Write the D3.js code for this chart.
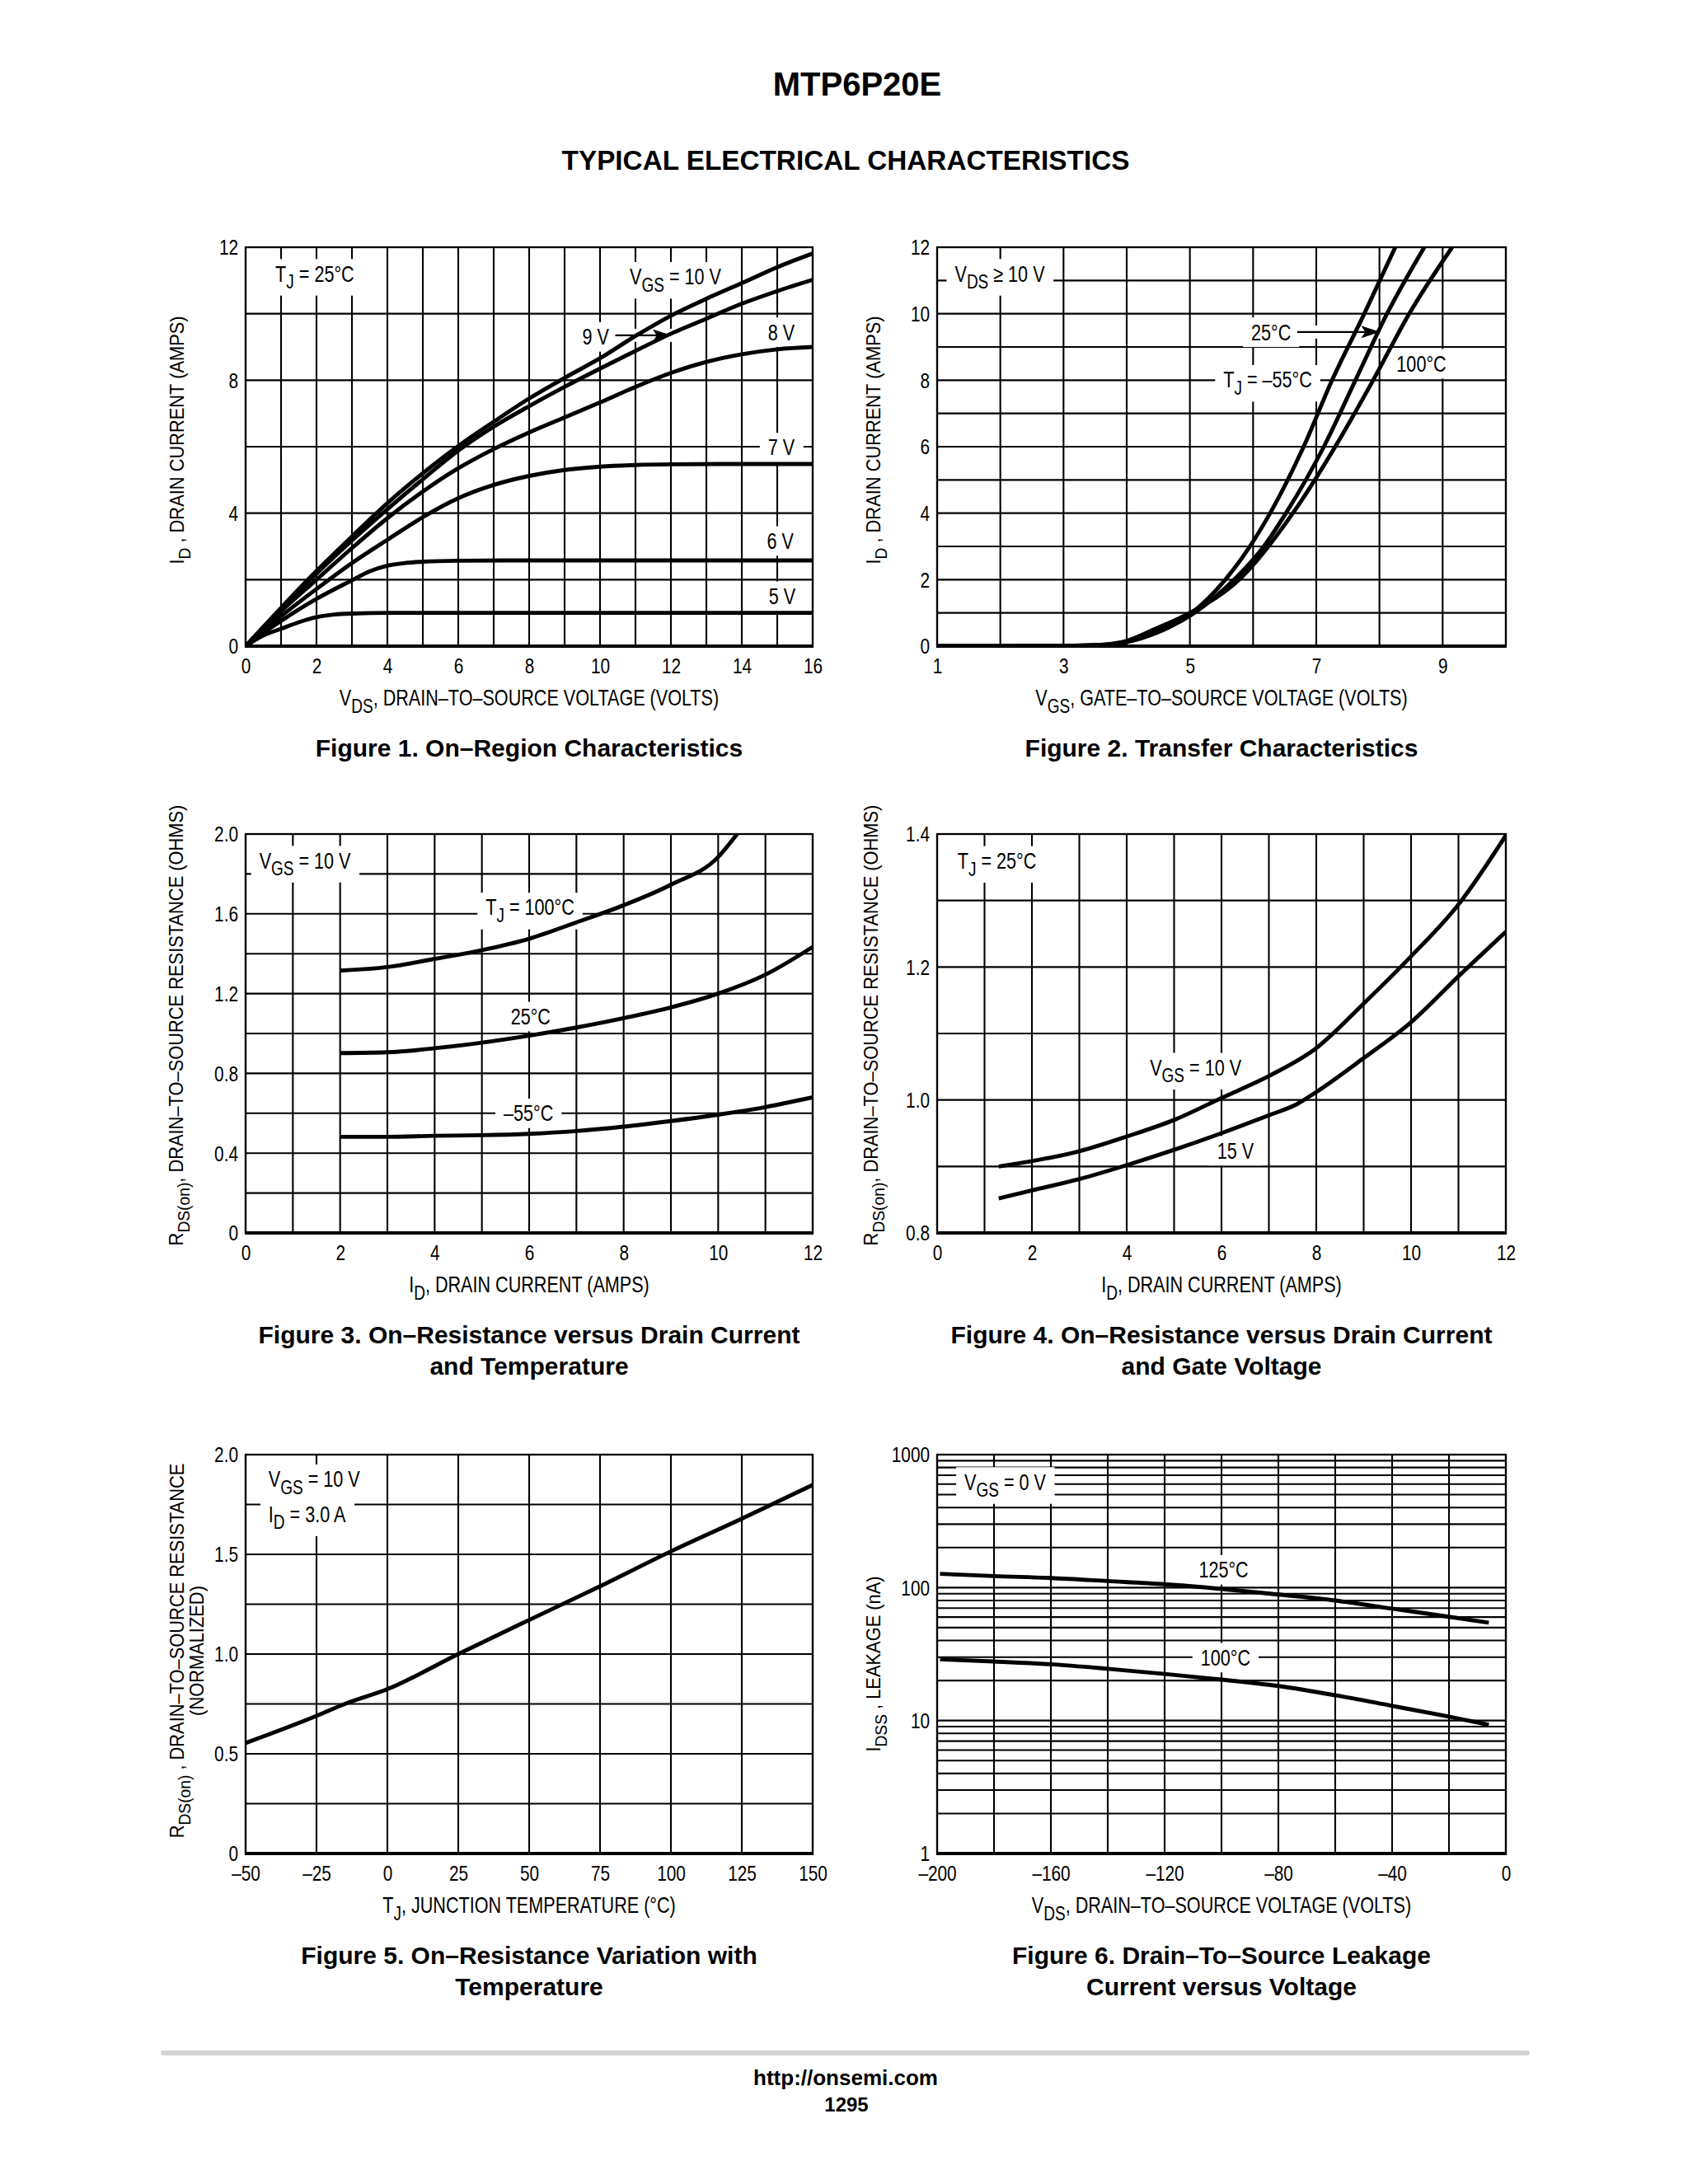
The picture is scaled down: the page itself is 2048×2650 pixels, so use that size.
<!DOCTYPE html>
<html><head><meta charset="utf-8">
<script src="https://cdn.jsdelivr.net/npm/d3@7/dist/d3.min.js"></script>
<style>html,body{margin:0;padding:0;background:#fff}svg{display:block}</style>
</head><body>
<svg id="page" width="2048" height="2650" xmlns="http://www.w3.org/2000/svg"></svg>
<script>
// ---------------- DATA ----------------
// Figure 1: ID vs VDS for VGS levels (TJ = 25 C)
const fig1XTicks = [0,2,4,6,8,10,12,14,16];
const fig1YTicks = [0,4,8,12];
const fig1Vgs10 = [[0,0],[1,1.15],[2,2.26],[3,3.3],[4,4.3],[5,5.2],[6,6.02],[7,6.75],[8,7.45],[9,8.07],[10,8.66],[11,9.33],[12,9.94],[13,10.45],[14,10.92],[15,11.4],[16,11.81]];
const fig1Vgs9  = [[0,0],[1,1.12],[2,2.18],[3,3.18],[4,4.12],[5,5.02],[6,5.88],[7,6.6],[8,7.22],[9,7.8],[10,8.35],[11,8.88],[12,9.4],[13,9.85],[14,10.3],[15,10.68],[16,11.02]];
const fig1Vgs8  = [[0,0],[1,1.05],[2,2.0],[3,2.95],[4,3.85],[5,4.65],[6,5.35],[7,5.93],[8,6.43],[9,6.88],[10,7.33],[11,7.8],[12,8.22],[13,8.55],[14,8.78],[15,8.93],[16,9.0]];
const fig1Vgs7  = [[0,0],[1,0.9],[2,1.72],[3,2.5],[4,3.2],[5,3.88],[6,4.45],[7,4.85],[8,5.12],[9,5.3],[10,5.4],[11,5.45],[12,5.47],[14,5.48],[16,5.48]];
const fig1Vgs6  = [[0,0],[0.5,0.4],[1,0.76],[2,1.42],[3,1.98],[3.5,2.25],[4,2.42],[4.5,2.5],[5,2.54],[6,2.57],[8,2.58],[16,2.58]];
const fig1Vgs5  = [[0,0],[0.5,0.32],[1,0.52],[1.5,0.72],[2,0.87],[2.5,0.95],[3,0.98],[4,1.0],[16,1.0]];

// Figure 2: ID vs VGS for TJ (VDS >= 10 V)
const fig2XTicks = [1,3,5,7,9];
const fig2YTicks = [0,2,4,6,8,10,12];
const fig2Tm55 = [[1,0],[2,0],[3,0.01],[3.5,0.03],[3.8,0.07],[4,0.13],[4.5,0.45],[5.03,1],[5.56,2],[6.27,4],[6.8,6],[7.25,8],[7.76,10],[8.25,12]];
const fig2T25  = [[1,0],[2,0],[3,0.01],[3.5,0.02],[3.8,0.06],[4,0.12],[4.5,0.42],[5.07,1],[5.7,2],[6.17,3],[6.52,4],[7.12,6],[7.62,8],[8.12,10],[8.71,12]];
const fig2T100 = [[1,0],[2,0],[3,0.01],[3.5,0.03],[3.8,0.08],[4,0.16],[4.43,0.5],[5.0,1],[5.78,2],[6.63,4],[7.3,6],[7.9,8],[8.47,10],[9.15,12]];

// Figure 3: RDS(on) vs ID for TJ (VGS = 10 V)
const fig3XTicks = [0,2,4,6,8,10,12];
const fig3YTicks = [0,0.4,0.8,1.2,1.6,2.0];
const fig3YLabels = ["0","0.4","0.8","1.2","1.6","2.0"];
const fig3T100 = [[2,1.315],[3,1.333],[4,1.374],[5,1.418],[6,1.475],[7,1.557],[8,1.643],[9,1.746],[10,1.885],[10.4,2.0]];
const fig3T25  = [[2,0.902],[3,0.906],[4,0.926],[5,0.954],[6,0.989],[7,1.03],[8,1.077],[9,1.131],[10,1.2],[11,1.295],[12,1.434]];
const fig3Tm55 = [[2,0.482],[3,0.482],[4,0.487],[5,0.49],[6,0.497],[7,0.511],[8,0.533],[9,0.561],[10,0.593],[11,0.631],[12,0.68]];

// Figure 4: RDS(on) vs ID for VGS (TJ = 25 C)
const fig4XTicks = [0,2,4,6,8,10,12];
const fig4YTicks = [0.8,1.0,1.2,1.4];
const fig4YLabels = ["0.8","1.0","1.2","1.4"];
const fig4Vgs10 = [[1.3,0.9],[2,0.908],[3,0.923],[4,0.945],[5,0.97],[6,1.003],[7,1.036],[8,1.078],[9,1.145],[10,1.216],[11,1.294],[12,1.398]];
const fig4Vgs15 = [[1.3,0.852],[2,0.864],[3,0.881],[4,0.902],[5,0.925],[6,0.95],[7,0.977],[7.6,0.994],[8,1.012],[9,1.063],[10,1.117],[11,1.186],[12,1.253]];

// Figure 5: normalized RDS(on) vs TJ
const fig5XTicks = [-50,-25,0,25,50,75,100,125,150];
const fig5XLabels = ["–50","–25","0","25","50","75","100","125","150"];
const fig5YTicks = [0,0.5,1.0,1.5,2.0];
const fig5YLabels = ["0","0.5","1.0","1.5","2.0"];
const fig5Rds = [[-50,0.554],[-25,0.69],[-15,0.75],[0,0.824],[25,1.0],[50,1.171],[75,1.34],[100,1.515],[125,1.679],[150,1.848]];

// Figure 6: IDSS vs VDS
const fig6XTicks = [-200,-160,-120,-80,-40,0];
const fig6XLabels = ["–200","–160","–120","–80","–40","0"];
const fig6YTicks = [1,10,100,1000];
const fig6T125 = [[-199,127],[-180,122],[-160,118],[-140,112],[-120,106],[-100,97.7],[-80,88.7],[-60,80],[-40,69.5],[-20,60.3],[-6,54.4]];
const fig6T100 = [[-199,28.9],[-180,27.8],[-160,26.5],[-140,24.5],[-120,22.4],[-100,20.3],[-80,18.2],[-60,15.5],[-40,12.9],[-20,10.7],[-6,9.3]];

// ---------------- DRAWING ----------------
const FR = "'Liberation Sans',Arial,Helvetica,sans-serif";
const SX = 0.8;              // horizontal condensing of chart text
const page = d3.select('#page');

function richText(sel, str, fs) {
  const parts = [];
  const re = /_\{([^}]*)\}/g; let last = 0, m;
  while ((m = re.exec(str))) {
    if (m.index > last) parts.push({t: str.slice(last, m.index), sub: false});
    parts.push({t: m[1], sub: true});
    last = re.lastIndex;
  }
  if (last < str.length) parts.push({t: str.slice(last), sub: false});
  const d = fs * 0.32;
  let shifted = false;
  parts.forEach(p => {
    const ts = sel.append('tspan').text(p.t);
    if (p.sub) { ts.attr('font-size', fs * 0.88).attr('dy', shifted ? 0 : d); shifted = true; }
    else { if (shifted) ts.attr('dy', -d); shifted = false; }
  });
  return sel;
}

function ctext(parent, x, y, str, fs, anchor) {
  const t = parent.append('text').attr('transform', `translate(${x},${y}) scale(${SX},1)`)
    .attr('font-family', FR).attr('font-size', fs).attr('text-anchor', anchor || 'start').attr('fill', '#000');
  richText(t, str, fs);
  return t;
}

function range(a, b, s) { const r = []; for (let v = a; v <= b + 1e-9; v += s) r.push(+v.toFixed(6)); return r; }

function drawPlot(c) {
  const g = page.append('g').attr('transform', `translate(${c.left},${c.top})`);
  const x = d3.scaleLinear().domain(c.xDomain).range([0, c.w]);
  const y = (c.yLog ? d3.scaleLog() : d3.scaleLinear()).domain(c.yDomain).range([c.h, 0]);
  const clipId = 'clip' + Math.random().toString(36).slice(2);
  g.append('clipPath').attr('id', clipId).append('rect').attr('width', c.w).attr('height', c.h);

  // grid
  const grid = g.append('g').attr('stroke', '#000').attr('stroke-width', 2.1);
  grid.selectAll('.vx').data(c.xGrid).join('line')
    .attr('x1', d => x(d)).attr('x2', d => x(d)).attr('y1', 0).attr('y2', c.h);
  grid.selectAll('.hy').data(c.yGrid).join('line')
    .attr('y1', d => y(d)).attr('y2', d => y(d)).attr('x1', 0).attr('x2', c.w);

  const bgLayer = g.append('g');
  // frame
  g.append('rect').attr('width', c.w).attr('height', c.h).attr('fill', 'none').attr('stroke', '#000').attr('stroke-width', 2.3);
  g.append('line').attr('x1', -1).attr('x2', c.w + 1).attr('y1', c.h).attr('y2', c.h).attr('stroke', '#000').attr('stroke-width', 4);

  // curves
  const line = d3.line().x(d => x(d[0])).y(d => y(d[1])).curve(d3.curveMonotoneX);
  g.append('g').attr('clip-path', `url(#${clipId})`).selectAll('path').data(c.series).join('path')
    .attr('d', d => line(d)).attr('fill', 'none').attr('stroke', '#000').attr('stroke-width', 4.9)
    .attr('stroke-linejoin', 'round').attr('stroke-linecap', 'butt');

  // labels
  const lab = g.append('g');
  (c.labels || []).forEach(L => {
    const t = ctext(lab, x(L.x), y(L.y), L.text, 27);
    const b = t.node().getBBox();
    bgLayer.append('rect').attr('transform', t.attr('transform'))
      .attr('x', b.x - 10 / SX).attr('y', b.y - 3).attr('width', b.width + 20 / SX).attr('height', b.height + 6).attr('fill', '#fff');
  });
  (c.arrows || []).forEach(A => {
    const x1 = x(A.x1), x2 = x(A.x2), yy = y(A.y);
    bgLayer.append('rect').attr('x', x1 - 2).attr('y', yy - 8).attr('width', x2 - x1 + 4).attr('height', 16).attr('fill', '#fff');
    lab.append('line').attr('x1', x1).attr('x2', x2 - 16).attr('y1', yy).attr('y2', yy).attr('stroke', '#000').attr('stroke-width', 2.3);
    lab.append('path').attr('d', `M${x2},${yy} L${x2 - 23},${yy - 7.5} L${x2 - 18},${yy} L${x2 - 23},${yy + 7.5} Z`).attr('fill', '#000');
  });

  // axes tick labels
  const ax = g.append('g').attr('transform', `translate(0,${c.h})`)
    .call(d3.axisBottom(x).tickValues(c.xTicks).tickSize(0).tickPadding(15)
      .tickFormat((d, i) => c.xLabels ? c.xLabels[i] : String(d)));
  ax.select('.domain').remove();
  ax.attr('font-family', null).attr('font-size', null);
  ax.selectAll('text').attr('font-family', FR).attr('font-size', 26).attr('fill', '#000')
    .attr('transform', `scale(${SX},1)`);

  const ay = g.append('g')
    .call(d3.axisLeft(y).tickValues(c.yTicks).tickSize(0)
      .tickFormat((d, i) => c.yLabels ? c.yLabels[i] : String(d)));
  ay.select('.domain').remove();
  ay.attr('font-family', null).attr('font-size', null);
  ay.selectAll('text').attr('font-family', FR).attr('font-size', 26).attr('fill', '#000')
    .attr('x', -9 / SX).attr('dy', '0.34em').attr('transform', `scale(${SX},1)`);

  // x axis title
  ctext(g, c.w / 2, c.h + 72, c.xTitle, 27, 'middle');

  // y axis titles (rotated, nearly regular width)
  c.yTitles.forEach(yt => {
    const t = g.append('text').attr('text-anchor', 'middle').attr('font-family', FR).attr('font-size', 23.5)
      .attr('transform', `translate(${yt.dx},${c.h / 2 + (c.yTitleShift || 0)}) rotate(-90) scale(0.93,1)`);
    richText(t, yt.text, 23.5);
  });

  // caption
  c.caption.forEach((cap, i) => {
    g.append('text').attr('x', c.w / 2).attr('y', c.h + 134 + i * 38).attr('text-anchor', 'middle')
      .attr('font-family', FR).attr('font-weight', 'bold').attr('font-size', 30).text(cap);
  });
  return {x, y};
}

const L1 = 298, L2 = 1137, W1 = 688, W2 = 690, H = 484;
const T1 = 300, T2 = 1012, T3 = 1765;

// Figure 1
drawPlot({
  left: L1, top: T1, w: W1, h: H, xDomain: [0, 16], yDomain: [0, 12],
  xGrid: range(0, 16, 1), yGrid: range(0, 12, 2), xTicks: fig1XTicks, yTicks: fig1YTicks,
  series: [fig1Vgs10, fig1Vgs9, fig1Vgs8, fig1Vgs7, fig1Vgs6, fig1Vgs5],
  labels: [
    {x: 0.84, y: 10.97, text: 'T_{J} = 25°C'},
    {x: 10.84, y: 10.88, text: 'V_{GS} = 10 V'},
    {x: 9.5, y: 9.07, text: '9 V'},
    {x: 14.74, y: 9.21, text: '8 V'},
    {x: 14.74, y: 5.74, text: '7 V'},
    {x: 14.71, y: 2.93, text: '6 V'},
    {x: 14.76, y: 1.27, text: '5 V'}
  ],
  arrows: [{x1: 10.43, x2: 12.02, y: 9.35}],
  xTitle: 'V_{DS}, DRAIN–TO–SOURCE VOLTAGE (VOLTS)',
  yTitles: [{dx: -75, text: 'I_{D} , DRAIN CURRENT (AMPS)'}], yTitleShift: -8,
  caption: ['Figure 1. On–Region Characteristics']
});

// Figure 2
drawPlot({
  left: L2, top: T1, w: W2, h: H, xDomain: [1, 10], yDomain: [0, 12],
  xGrid: range(1, 10, 1), yGrid: range(0, 12, 1), xTicks: fig2XTicks, yTicks: fig2YTicks,
  series: [fig2Tm55, fig2T25, fig2T100],
  labels: [
    {x: 1.28, y: 10.97, text: 'V_{DS} ≥ 10 V'},
    {x: 5.97, y: 9.21, text: '25°C'},
    {x: 5.53, y: 7.78, text: 'T_{J} = –55°C'},
    {x: 8.27, y: 8.26, text: '100°C'}
  ],
  arrows: [{x1: 6.7, x2: 8.01, y: 9.45}],
  xTitle: 'V_{GS}, GATE–TO–SOURCE VOLTAGE (VOLTS)',
  yTitles: [{dx: -69, text: 'I_{D} , DRAIN CURRENT (AMPS)'}], yTitleShift: -8,
  caption: ['Figure 2. Transfer Characteristics']
});

// Figure 3
drawPlot({
  left: L1, top: T2, w: W1, h: H, xDomain: [0, 12], yDomain: [0, 2],
  xGrid: range(0, 12, 1), yGrid: range(0, 2, 0.2), xTicks: fig3XTicks, yTicks: fig3YTicks, yLabels: fig3YLabels,
  series: [fig3T100, fig3T25, fig3Tm55],
  labels: [
    {x: 0.29, y: 1.828, text: 'V_{GS} = 10 V'},
    {x: 5.08, y: 1.593, text: 'T_{J} = 100°C'},
    {x: 5.61, y: 1.046, text: '25°C'},
    {x: 5.46, y: 0.561, text: '–55°C'}
  ],
  xTitle: 'I_{D}, DRAIN CURRENT (AMPS)',
  yTitles: [{dx: -76, text: 'R_{DS(on)}, DRAIN–TO–SOURCE RESISTANCE (OHMS)'}], yTitleShift: -10,
  caption: ['Figure 3. On–Resistance versus Drain Current', 'and Temperature']
});

// Figure 4
drawPlot({
  left: L2, top: T2, w: W2, h: H, xDomain: [0, 12], yDomain: [0.8, 1.4],
  xGrid: range(0, 12, 1), yGrid: range(0.8, 1.4, 0.1), xTicks: fig4XTicks, yTicks: fig4YTicks, yLabels: fig4YLabels,
  series: [fig4Vgs10, fig4Vgs15],
  labels: [
    {x: 0.43, y: 1.348, text: 'T_{J} = 25°C'},
    {x: 4.49, y: 1.037, text: 'V_{GS} = 10 V'},
    {x: 5.91, y: 0.912, text: '15 V'}
  ],
  xTitle: 'I_{D}, DRAIN CURRENT (AMPS)',
  yTitles: [{dx: -72, text: 'R_{DS(on)}, DRAIN–TO–SOURCE RESISTANCE (OHMS)'}], yTitleShift: -10,
  caption: ['Figure 4. On–Resistance versus Drain Current', 'and Gate Voltage']
});

// Figure 5
drawPlot({
  left: L1, top: T3, w: W1, h: H, xDomain: [-50, 150], yDomain: [0, 2],
  xGrid: range(-50, 150, 25), yGrid: range(0, 2, 0.25), xTicks: fig5XTicks, xLabels: fig5XLabels, yTicks: fig5YTicks, yLabels: fig5YLabels,
  series: [fig5Rds],
  labels: [
    {x: -41.9, y: 1.838, text: 'V_{GS} = 10 V'},
    {x: -41.9, y: 1.662, text: 'I_{D} = 3.0 A'}
  ],
  xTitle: 'T_{J}, JUNCTION TEMPERATURE (°C)',
  yTitles: [{dx: -75, text: 'R_{DS(on)} , DRAIN–TO–SOURCE RESISTANCE'}, {dx: -51, text: '(NORMALIZED)'}], yTitleShift: -4,
  caption: ['Figure 5. On–Resistance Variation with', 'Temperature']
});

// Figure 6
const minorLog = [];
[1, 10, 100].forEach(dec => { for (let k = 1; k < 10; k++) minorLog.push(dec * k); });
minorLog.push(1000);
drawPlot({
  left: L2, top: T3, w: W2, h: H, xDomain: [-200, 0], yDomain: [1, 1000], yLog: true,
  xGrid: range(-200, 0, 20), yGrid: minorLog, xTicks: fig6XTicks, xLabels: fig6XLabels, yTicks: fig6YTicks,
  series: [fig6T125, fig6T100],
  labels: [
    {x: -190.4, y: 545, text: 'V_{GS} = 0 V'},
    {x: -108, y: 119, text: '125°C'},
    {x: -107.3, y: 26, text: '100°C'}
  ],
  xTitle: 'V_{DS}, DRAIN–TO–SOURCE VOLTAGE (VOLTS)',
  yTitles: [{dx: -69, text: 'I_{DSS} , LEAKAGE (nA)'}], yTitleShift: 12,
  caption: ['Figure 6. Drain–To–Source Leakage', 'Current versus Voltage']
});

// page header & footer
page.append('text').attr('x', 1040).attr('y', 116).attr('text-anchor', 'middle').attr('font-family', FR)
  .attr('font-weight', 'bold').attr('font-size', 40).text('MTP6P20E');
page.append('text').attr('x', 1026).attr('y', 206).attr('text-anchor', 'middle').attr('font-family', FR)
  .attr('font-weight', 'bold').attr('font-size', 33.3).text('TYPICAL ELECTRICAL CHARACTERISTICS');
page.append('line').attr('x1', 198).attr('x2', 1853).attr('y1', 2491).attr('y2', 2491)
  .attr('stroke', '#d4d4d4').attr('stroke-width', 6).attr('stroke-linecap', 'round');
page.append('text').attr('x', 1026).attr('y', 2530).attr('text-anchor', 'middle').attr('font-family', FR)
  .attr('font-weight', 'bold').attr('font-size', 26).text('http://onsemi.com');
page.append('text').attr('x', 1027).attr('y', 2562).attr('text-anchor', 'middle').attr('font-family', FR)
  .attr('font-weight', 'bold').attr('font-size', 24).text('1295');
</script>
</body></html>
